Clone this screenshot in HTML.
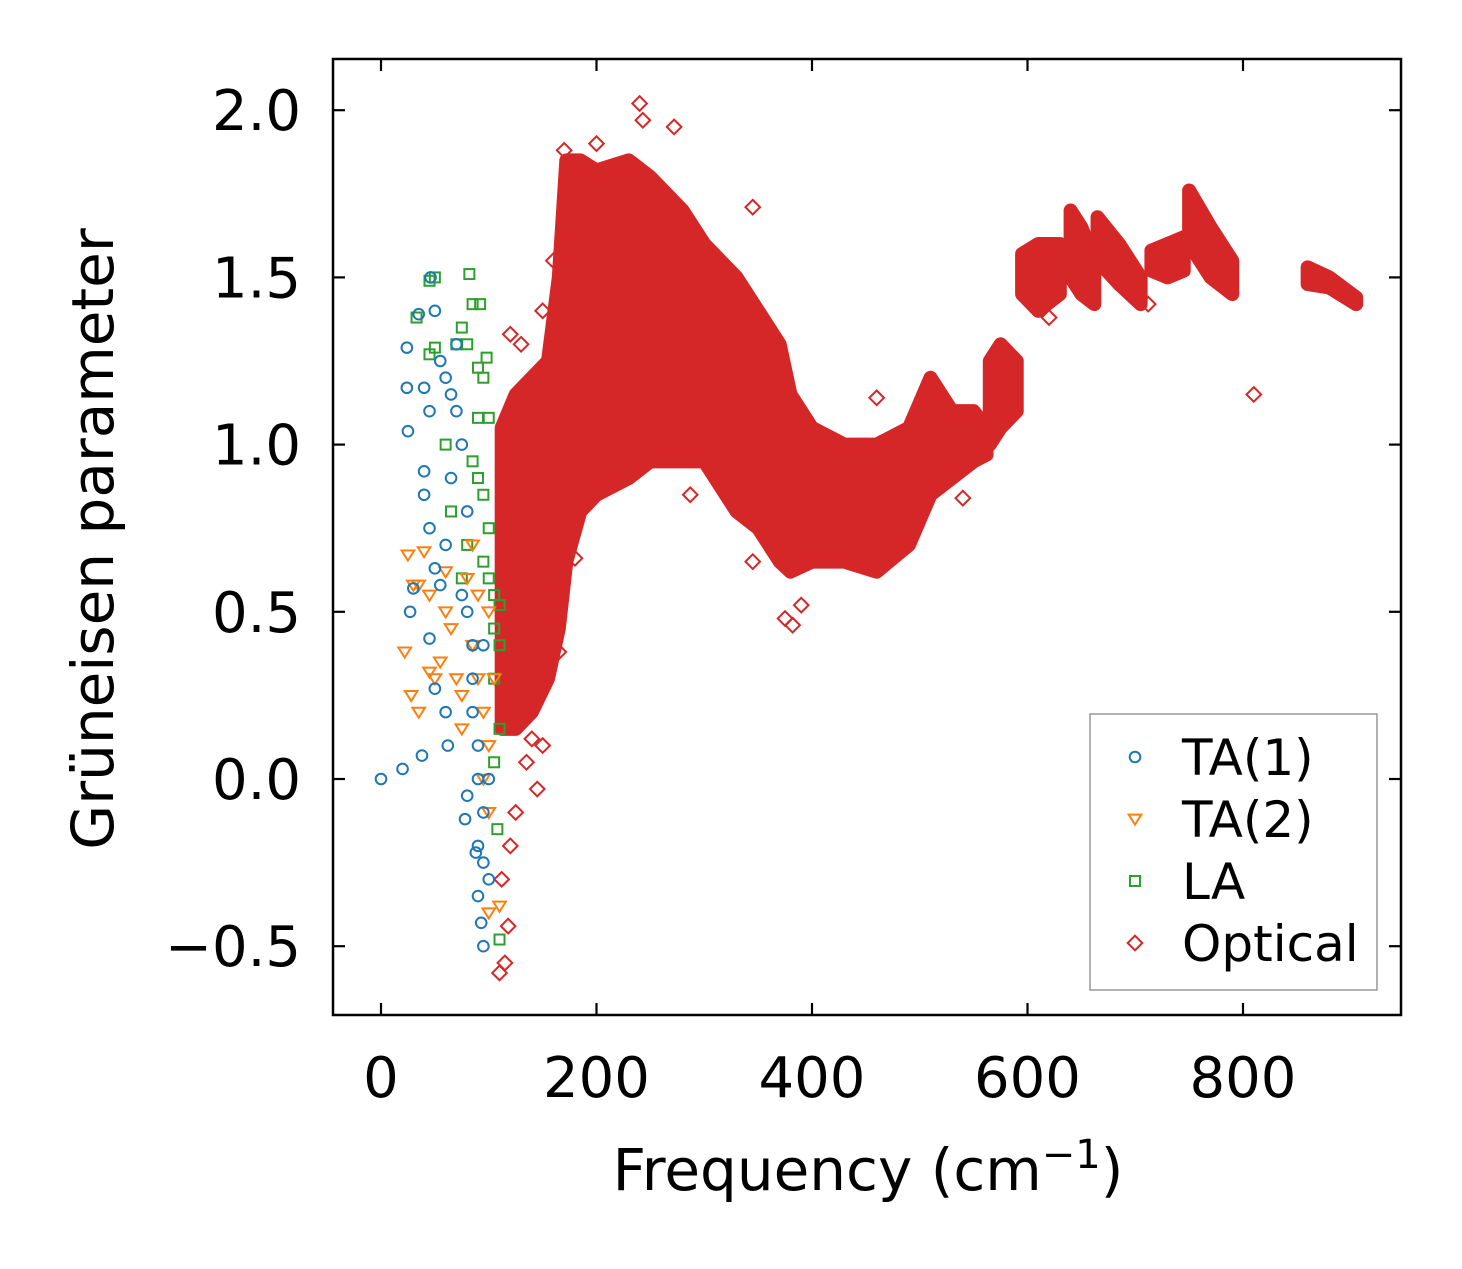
<!DOCTYPE html>
<html><head><meta charset="utf-8"><style>
html,body{margin:0;padding:0;background:#fff;}
svg text{font-family:"DejaVu Sans","Liberation Sans",sans-serif;fill:#000;}
</style></head><body>
<svg id="chart" width="1462" height="1264" viewBox="0 0 1462 1264" xmlns="http://www.w3.org/2000/svg">
<rect width="1462" height="1264" fill="#fff"/>
<g id="marks"></g>
<g id="axes"></g>
<text x="868" y="1190" font-size="58" text-anchor="middle">Frequency (cm<tspan dy="-22" font-size="40">−1</tspan><tspan dy="22">)</tspan></text>
<text transform="translate(113,539) rotate(-90)" font-size="58" text-anchor="middle">Grüneisen parameter</text>
<g id="legend"></g>
</svg>
<script>
const xTicks=[0,200,400,600,800];
const yTicks=[-0.5,0,0.5,1.0,1.5,2.0];
const yTickLabels=["−0.5","0.0","0.5","1.0","1.5","2.0"];
const seriesNames=["TA(1)","TA(2)","LA","Optical"];
const ta1Freq=[0,20,38,50,60,62,24,25,24,35,46,50,40,45,40,40,45,50,30,27,45,55,60,65,60,70,75,80,80,85,85,90,90,80,78,90,95,90,93,95,100,95,70,55,65,75,85,100,95,88];
const ta1Gamma=[0,0.03,0.07,0.27,0.2,0.1,1.17,1.04,1.29,1.39,1.5,1.4,1.17,1.1,0.92,0.85,0.75,0.63,0.57,0.5,0.42,0.58,0.7,0.9,1.2,1.1,1.0,0.8,0.5,0.3,0.2,0.1,0.0,-0.05,-0.12,-0.2,-0.25,-0.35,-0.43,-0.5,-0.3,0.4,1.3,1.25,1.15,0.55,0.4,0.0,-0.1,-0.22];
const ta2Freq=[25,30,35,22,28,35,45,50,55,60,65,70,75,80,85,90,95,100,95,100,100,110,85,60,40,45,75,90,105,100];
const ta2Gamma=[0.67,0.58,0.58,0.38,0.25,0.2,0.32,0.3,0.35,0.5,0.45,0.3,0.25,0.6,0.4,0.3,0.2,0.5,0.0,-0.1,-0.4,-0.38,0.7,0.62,0.68,0.55,0.15,0.55,0.3,0.1];
const laFreq=[45,50,33,50,45,82,85,92,80,90,95,70,75,98,90,100,85,90,95,100,100,105,110,110,105,110,105,108,110,65,80,95,105,75,60];
const laGamma=[1.49,1.5,1.38,1.29,1.27,1.51,1.42,1.42,1.3,1.23,1.2,1.3,1.35,1.26,1.08,1.08,0.95,0.9,0.85,0.75,0.6,0.55,0.52,0.4,0.3,0.15,0.05,-0.15,-0.48,0.8,0.7,0.65,0.45,0.6,1.0];
// optical dense bands: frequency, lower envelope, upper envelope
const optBandFreq=[[112,125,140,155,165,172,185,200,230,250,280,300,330,350,370,380,400,430,460,490,510,530,550,562],[565,575,590],[595,610,630],[640,650,662],[665,685,705],[715,730,745],[750,770,790],[860,880,905]];
const optBandLow=[[0.15,0.15,0.2,0.3,0.45,0.65,0.8,0.85,0.9,0.95,0.95,0.95,0.8,0.75,0.65,0.62,0.65,0.65,0.62,0.7,0.85,0.9,0.95,0.97],[1.0,1.05,1.1],[1.45,1.4,1.45],[1.5,1.45,1.42],[1.55,1.48,1.42],[1.52,1.5,1.52],[1.6,1.5,1.45],[1.48,1.47,1.42]];
const optBandHigh=[[1.05,1.15,1.2,1.25,1.5,1.85,1.85,1.82,1.85,1.8,1.7,1.6,1.5,1.4,1.3,1.15,1.05,1.0,1.0,1.05,1.2,1.1,1.1,1.05],[1.25,1.3,1.25],[1.57,1.6,1.6],[1.7,1.65,1.55],[1.68,1.6,1.5],[1.58,1.6,1.62],[1.76,1.65,1.55],[1.53,1.5,1.44]];
const optFreq=[240,272,243,345,287,345,375,382,390,145,110,115,118,112,120,150,180,165,120,130,150,460,540,620,712,810,170,200,160,135,140,125];
const optGamma=[2.02,1.95,1.97,1.71,0.85,0.65,0.48,0.46,0.52,-0.03,-0.58,-0.55,-0.44,-0.3,-0.2,0.1,0.66,0.38,1.33,1.3,1.4,1.14,0.84,1.38,1.42,1.15,1.88,1.9,1.55,0.05,0.12,-0.1];

const NS="http://www.w3.org/2000/svg";
const L=333,R=1401,T=59,B=1015;
const xs=v=>381+v*1.0775;
const ys=v=>779-v*334.4;
const C={b:"#1f77b4",o:"#ff7f0e",g:"#2ca02c",r:"#d62728"};
function mk(tag,attrs,parent){const e=document.createElementNS(NS,tag);for(const k in attrs)e.setAttribute(k,attrs[k]);parent.appendChild(e);return e;}
const marks=document.getElementById('marks');
function circle(x,y,p){return mk('circle',{cx:x,cy:y,r:5.3,fill:'none',stroke:C.b,'stroke-width':2},p);}
function tri(x,y,p){const s=6.3;return mk('polygon',{points:`${x-s},${y-s*0.7} ${x+s},${y-s*0.7} ${x},${y+s*0.9}`,fill:'none',stroke:C.o,'stroke-width':2},p);}
function sq(x,y,p){const s=5;return mk('rect',{x:x-s,y:y-s,width:2*s,height:2*s,fill:'none',stroke:C.g,'stroke-width':2},p);}
function dia(x,y,p){const s=7.3;return mk('polygon',{points:`${x},${y-s} ${x+s},${y} ${x},${y+s} ${x-s},${y}`,fill:'none',stroke:C.r,'stroke-width':2},p);}

const gOpt=mk('g',{},marks);


optBandFreq.forEach((fr,i)=>{
  const up=fr.map((f,j)=>xs(f)+','+ys(optBandHigh[i][j]));
  const lo=fr.map((f,j)=>xs(f)+','+ys(optBandLow[i][j])).reverse();
  const p=mk('polygon',{points:up.concat(lo).join(' '),fill:C.r,stroke:C.r,'stroke-width':14,'stroke-linejoin':'round'},gOpt);
  
  
});
optFreq.forEach((f,i)=>{const e=dia(xs(f),ys(optGamma[i]),gOpt);
  
  });
const gLA=mk('g',{},marks);


laFreq.forEach((f,i)=>{const e=sq(xs(f),ys(laGamma[i]),gLA);
  
  });
const gT2=mk('g',{},marks);


ta2Freq.forEach((f,i)=>{const e=tri(xs(f),ys(ta2Gamma[i]),gT2);
  
  });
const gT1=mk('g',{},marks);


ta1Freq.forEach((f,i)=>{const e=circle(xs(f),ys(ta1Gamma[i]),gT1);
  
  });

const axes=document.getElementById('axes');
const frame=mk('rect',{x:L,y:T,width:R-L,height:B-T,fill:'none',stroke:'#000','stroke-width':2.5},axes);


xTicks.forEach(v=>{const x=xs(v);
  mk('line',{x1:x,y1:B,x2:x,y2:B-12,stroke:'#000','stroke-width':2.2},axes);
  mk('line',{x1:x,y1:T,x2:x,y2:T+12,stroke:'#000','stroke-width':2.2},axes);
  const t=mk('text',{x:x,y:B+82,'font-size':56,'text-anchor':'middle'},axes);t.textContent=v;
  
  });
yTicks.forEach((v,i)=>{const y=ys(v);
  mk('line',{x1:L,y1:y,x2:L+12,y2:y,stroke:'#000','stroke-width':2.2},axes);
  mk('line',{x1:R,y1:y,x2:R-12,y2:y,stroke:'#000','stroke-width':2.2},axes);
  const t=mk('text',{x:L-32,y:y+20,'font-size':56,'text-anchor':'end'},axes);t.textContent=yTickLabels[i];
  
  });

const lg=document.getElementById('legend');
mk('rect',{x:1090,y:714,width:287,height:276,fill:'#fff',stroke:'#999','stroke-width':1.5},lg);
const draw=[circle,tri,sq,dia];
seriesNames.forEach((n,i)=>{const y=757+i*62;
  draw[i](1135,y,lg);
  const t=mk('text',{x:1182,y:y+18,'font-size':50},lg);t.textContent=n;
  
  });
</script>
</body></html>
